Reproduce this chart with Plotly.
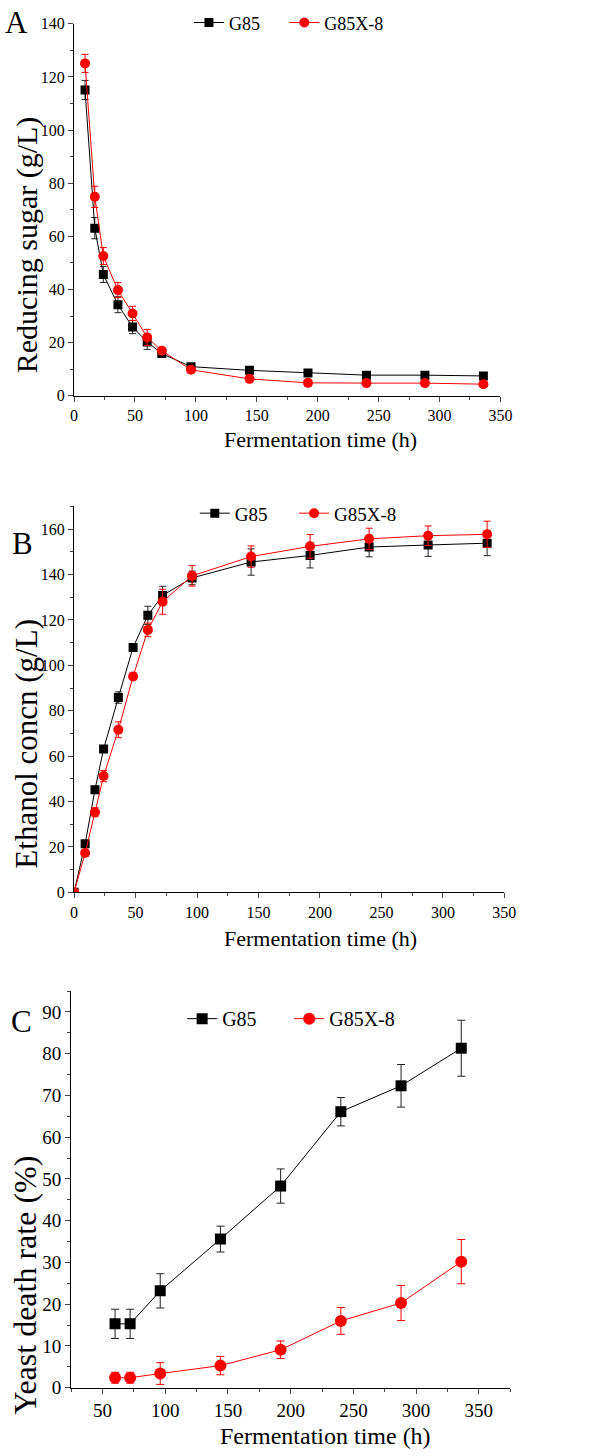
import plotly.graph_objects as go

# ---- data -------------------------------------------------------------
time_a = [9, 17, 24, 36, 48, 60, 72, 96, 144, 192, 240, 288, 336]
sugar_g85 = [115.1, 63.1, 45.7, 34.3, 25.9, 20.3, 15.9, 11.0, 9.6, 8.6, 7.8, 7.8, 7.5]
sugar_g85_err = [3.6, 4.0, 3.0, 3.0, 2.5, 2.8, 1.0, 0.8, 0.6, 0.6, 0.5, 0.5, 0.5]
sugar_x8 = [125.1, 74.9, 52.6, 39.8, 31.0, 22.0, 17.0, 9.8, 6.4, 4.9, 4.8, 4.8, 4.4]
sugar_x8_err = [3.4, 4.0, 3.2, 2.8, 2.7, 3.0, 0.8, 0.8, 0.5, 0.5, 0.4, 0.4, 0.4]

time_b = [0, 9, 17, 24, 36, 48, 60, 72, 96, 144, 192, 240, 288, 336]
eth_g85 = [0, 21.4, 45.2, 63.1, 85.8, 107.9, 122.0, 130.8, 138.5, 145.5, 148.4, 152.1, 153.0, 153.8]
eth_g85_err = [0.5, 1.0, 1.5, 1.0, 2.5, 1.5, 4.0, 4.0, 3.0, 5.8, 5.5, 4.3, 5.0, 5.5]
eth_x8 = [0, 17.3, 35.3, 51.2, 71.6, 95.1, 115.6, 128.0, 139.4, 147.9, 152.4, 155.7, 157.1, 157.7]
eth_x8_err = [0.5, 1.5, 2.0, 2.5, 3.5, 1.5, 3.0, 5.5, 4.5, 4.7, 5.2, 4.7, 4.3, 5.8]

time_c = [60, 72, 96, 144, 192, 240, 288, 336]
death_g85 = [15.3, 15.3, 23.2, 35.6, 48.3, 66.1, 72.3, 81.3]
death_g85_err = [3.5, 3.5, 4.1, 3.1, 4.1, 3.4, 5.1, 6.7]
death_x8 = [2.4, 2.4, 3.4, 5.3, 9.1, 16.0, 20.3, 30.2]
death_x8_err = [1.3, 1.3, 2.6, 2.2, 2.1, 3.2, 4.2, 5.3]

series_names = ["G85", "G85X-8"]
x_title = "Fermentation time (h)"
y_titles = ["Reducing sugar (g/L)", "Ethanol concn (g/L)", "Yeast death rate (%)"]
panel_tags = ["A", "B", "C"]

# ---- page geometry (pixels) -------------------------------------------
W, H = 602, 1456
FONT = "Liberation Serif"
BLACK, RED = "#000000", "#ff0000"


def px_x(p):
    return p / W


def px_y(p):
    return 1 - p / H


# plot boxes: left, right, top, bottom
boxes = [
    (72, 510, 16, 393),
    (72, 514, 505, 896),
    (69, 520, 996, 1398),
]

# one legend per series so each entry sits where it belongs
legend_keys = [("legend", "legend2"), ("legend3", "legend4"), ("legend5", "legend6")]
legend_x0 = [(190, 288), (196, 298), (183, 293)]
legend_cy = [15, 512, 1024]
legend_sizes = [18, 19, 20]

fig = go.Figure()


def add_pair(t, g, ge, r, re, xa, ya, legs, msize_sq, msize_ci, cap):
    fig.add_trace(go.Scatter(
        x=t, y=g, name=series_names[0], mode="lines+markers",
        line=dict(color=BLACK, width=1),
        marker=dict(symbol="square", size=msize_sq, color=BLACK),
        error_y=dict(type="data", array=ge, color="#222222", thickness=1, width=cap),
        xaxis=xa, yaxis=ya, legend=legs[0],
    ))
    fig.add_trace(go.Scatter(
        x=t, y=r, name=series_names[1], mode="lines+markers",
        line=dict(color=RED, width=1),
        marker=dict(symbol="circle", size=msize_ci, color=RED),
        error_y=dict(type="data", array=re, color=RED, thickness=1, width=cap),
        xaxis=xa, yaxis=ya, legend=legs[1],
    ))


add_pair(time_a, sugar_g85, sugar_g85_err, sugar_x8, sugar_x8_err, "x", "y", legend_keys[0], 9, 10, 3.5)
add_pair(time_b, eth_g85, eth_g85_err, eth_x8, eth_x8_err, "x2", "y2", legend_keys[1], 9, 10, 3.5)
add_pair(time_c, death_g85, death_g85_err, death_x8, death_x8_err, "x3", "y3", legend_keys[2], 11, 12, 4)

tick_sizes = [16, 16, 19]
xtitle_sizes = [22, 22, 24]
ytitle_sizes = [30, 31, 32]
tag_pos = [(13, 15), (19, 543), (18, 1027)]
xtitle_pos = [(325, 437), (325, 943), (330, 1447)]
ytitle_pos = [(23, 240), (23, 745), (22, 1294)]

x_ranges = [[0, 350], [0, 350], [25, 375]]
x_ticks = [list(range(0, 351, 50)), list(range(0, 351, 50)), list(range(50, 351, 50))]
y_ranges = [[0, 140], [0, 170], [0, 95]]
y_dticks = [20, 20, 10]
y_minor = [10, 10, 5]

layout = dict(
    width=W, height=H,
    margin=dict(l=0, r=0, t=0, b=0),
    paper_bgcolor="white", plot_bgcolor="white",
    font=dict(family=FONT, color="black"),
    showlegend=True,
)

annotations = []
for i, (l, r, t, b) in enumerate(boxes):
    sfx = "" if i == 0 else str(i + 1)
    layout["xaxis" + sfx] = dict(
        domain=[px_x(l), px_x(r)], anchor="y" + sfx, range=x_ranges[i],
        tickvals=x_ticks[i], ticks="outside", ticklen=5, tickwidth=1.2,
        showline=True, linecolor="black", linewidth=1.3, showgrid=False, zeroline=False,
        tickfont=dict(size=tick_sizes[i], family=FONT),
        minor=dict(dtick=25, tick0=0, ticks="outside", ticklen=3, tickwidth=1, showgrid=False),
    )
    layout["yaxis" + sfx] = dict(
        domain=[px_y(b), px_y(t)], anchor="x" + sfx, range=y_ranges[i],
        dtick=y_dticks[i], tick0=0, ticks="outside", ticklen=5, tickwidth=1.2,
        showline=True, linecolor="black", linewidth=1.3, showgrid=False, zeroline=False,
        tickfont=dict(size=tick_sizes[i], family=FONT),
        minor=dict(dtick=y_minor[i], tick0=0, ticks="outside", ticklen=3, tickwidth=1, showgrid=False),
    )
    for j, key in enumerate(legend_keys[i]):
        layout[key] = dict(
            orientation="h", x=px_x(legend_x0[i][j]), xanchor="left", xref="paper",
            y=px_y(legend_cy[i]), yanchor="middle",
            font=dict(size=legend_sizes[i], family=FONT), bgcolor="rgba(0,0,0,0)",
            itemwidth=30,
        )
    annotations.append(dict(
        text=x_title, xref="paper", yref="paper", showarrow=False,
        x=px_x(xtitle_pos[i][0]), y=px_y(xtitle_pos[i][1]),
        xanchor="center", yanchor="middle",
        font=dict(size=xtitle_sizes[i], family=FONT),
    ))
    annotations.append(dict(
        text=y_titles[i], xref="paper", yref="paper", showarrow=False, textangle=-90,
        x=px_x(ytitle_pos[i][0]), y=px_y(ytitle_pos[i][1]),
        xanchor="center", yanchor="middle",
        font=dict(size=ytitle_sizes[i], family=FONT),
    ))
    annotations.append(dict(
        text=panel_tags[i], xref="paper", yref="paper", showarrow=False,
        x=px_x(tag_pos[i][0]), y=px_y(tag_pos[i][1]),
        xanchor="center", yanchor="middle",
        font=dict(size=31, family=FONT),
    ))

layout["annotations"] = annotations
fig.update_layout(**layout)

fig.write_html("out.html")
